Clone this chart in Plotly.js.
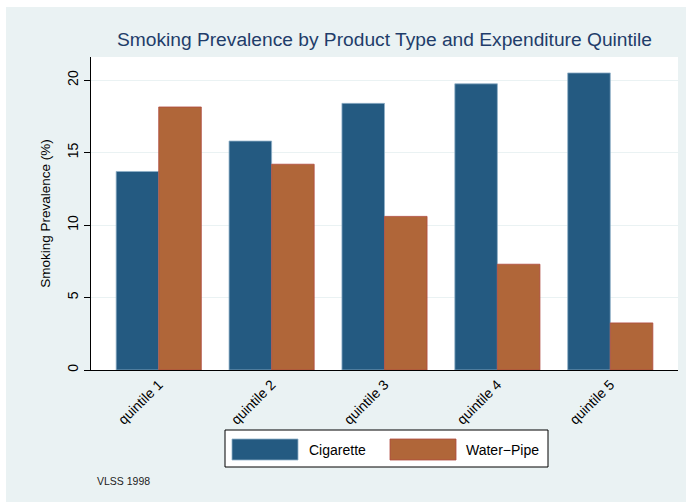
<!DOCTYPE html>
<html><head><meta charset="utf-8">
<script src="https://cdn.plot.ly/plotly-3.0.1.min.js"></script>
<style>html,body{margin:0;padding:0;background:#fff;}#chart{width:686px;height:502px;}</style>
</head><body><div id="chart"></div>
<script>
// ---- data ----
const categories = ['quintile 1', 'quintile 2', 'quintile 3', 'quintile 4', 'quintile 5'];
const seriesNames = ['Cigarette', 'Water\u2212Pipe'];
const cigarette = [13.7, 15.8, 18.4, 19.75, 20.5];
const waterPipe = [18.15, 14.2, 10.6, 7.3, 3.25];
const yTicks = [0, 5, 10, 15, 20];
const titleText = 'Smoking Prevalence by Product Type and Expenditure Quintile';
const yTitle = 'Smoking Prevalence (%)';
const noteText = 'VLSS 1998';

// ---- styles ----
const FONT = 'Liberation Sans, Arial, Helvetica, sans-serif';
const colors = ['#245a81', '#b06639'];
const outlines = ['#8fb0c8', '#b04a3f'];
const W = 686, H = 502;
const M = {l: 91, r: 8, t: 57, b: 132};
const PW = W - M.l - M.r, PH = H - M.t - M.b;
const px = v => (v - M.l) / PW;
const py = v => (H - M.b - v) / PH;

const traces = [cigarette, waterPipe].map((vals, i) => ({
  type: 'bar', x: categories, y: vals, name: seriesNames[i],
  marker: {color: colors[i], line: {color: outlines[i], width: 0.8}},
  hoverinfo: 'x+y+name'
}));

const shapes = [
  // white outer border strips (top / left)
  {type: 'rect', xref: 'paper', yref: 'paper', x0: px(0), x1: px(W), y0: py(7), y1: py(0), fillcolor: '#ffffff', line: {width: 0}, layer: 'below'},
  {type: 'rect', xref: 'paper', yref: 'paper', x0: px(0), x1: px(6), y0: py(H), y1: py(0), fillcolor: '#ffffff', line: {width: 0}, layer: 'below'},
  // legend box
  {type: 'rect', xref: 'paper', yref: 'paper', x0: px(225), x1: px(548), y0: py(467), y1: py(430), fillcolor: '#ffffff', line: {color: '#000', width: 1}},
  {type: 'rect', xref: 'paper', yref: 'paper', x0: px(232), x1: px(298), y0: py(460), y1: py(439), fillcolor: colors[0], line: {color: outlines[0], width: 0.8}},
  {type: 'rect', xref: 'paper', yref: 'paper', x0: px(390), x1: px(456), y0: py(460), y1: py(439), fillcolor: colors[1], line: {color: outlines[1], width: 0.8}}
];

const annotations = [
  {xref: 'paper', yref: 'paper', x: px(307), y: py(449.5), xanchor: 'left', yanchor: 'middle', text: seriesNames[0], showarrow: false, font: {family: FONT, size: 14, color: '#000'}},
  {xref: 'paper', yref: 'paper', x: px(464), y: py(449.5), xanchor: 'left', yanchor: 'middle', text: seriesNames[1], showarrow: false, font: {family: FONT, size: 14, color: '#000'}},
  {xref: 'paper', yref: 'paper', x: px(95), y: py(481), xanchor: 'left', yanchor: 'middle', text: noteText, showarrow: false, font: {family: FONT, size: 10.5, color: '#222'}}
];

const layout = {
  width: W, height: H, margin: M,
  paper_bgcolor: '#eaf2f3', plot_bgcolor: '#ffffff',
  font: {family: FONT, color: '#000'},
  showlegend: false,
  barmode: 'group', bargap: 0.246, bargroupgap: 0,
  title: {text: titleText, font: {family: FONT, size: 19.2, color: '#1f3d6a'}, x: 0.5, xref: 'paper', xanchor: 'center', y: 1 - 39.5 / H, yref: 'container', yanchor: 'middle'},
  xaxis: {type: 'category', range: [-0.6, 4.6], showline: true, linecolor: '#000', linewidth: 1, ticks: '', showgrid: false, zeroline: false, tickangle: -45, tickfont: {family: FONT, size: 14, color: '#000'}, automargin: false, fixedrange: true},
  yaxis: {range: [0, 21.6], tickvals: yTicks, ticktext: yTicks.map(String), ticks: 'outside', ticklen: 6, tickcolor: '#000', showline: true, linecolor: '#000', linewidth: 1, gridcolor: '#eaf2f3', gridwidth: 1, zeroline: false, tickangle: -90, tickfont: {family: FONT, size: 14, color: '#000'}, title: {text: yTitle, font: {family: FONT, size: 13.5, color: '#000'}, standoff: 11}, automargin: false, fixedrange: true},
  shapes: shapes, annotations: annotations
};

Plotly.newPlot('chart', traces, layout, {displayModeBar: false, staticPlot: true});
</script>
</body></html>
